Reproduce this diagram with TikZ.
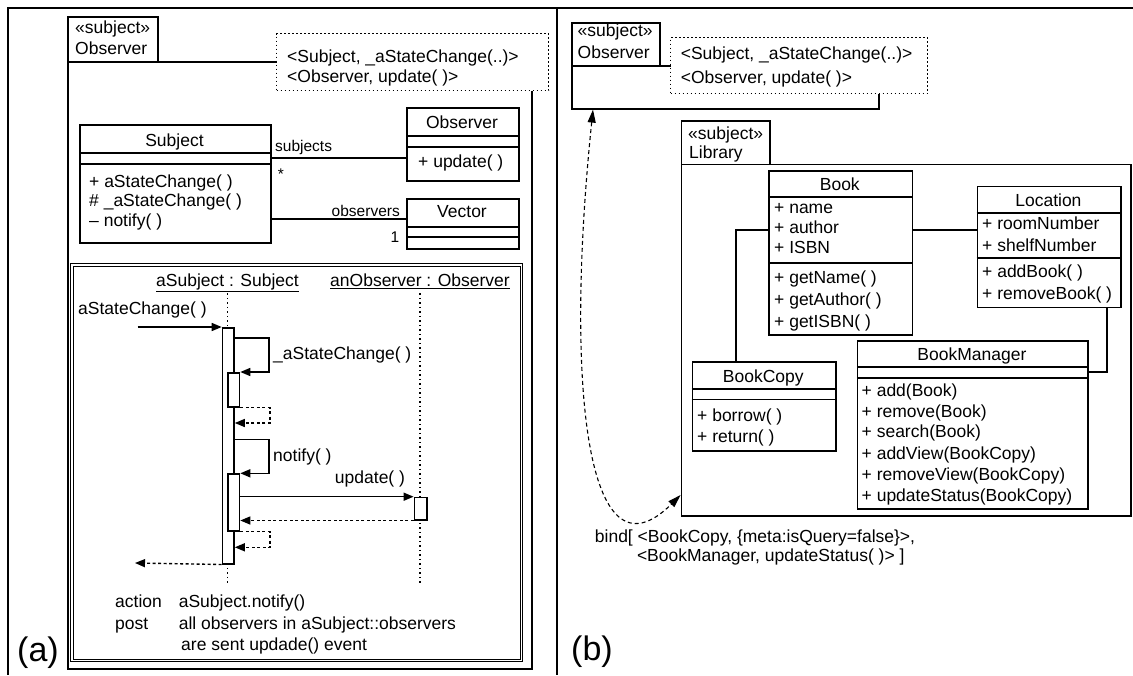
\documentclass[tikz,border=0pt]{standalone}
\usepackage{fontspec}
\setmainfont{Liberation Sans}
\usetikzlibrary{arrows.meta}
\tikzset{
  txt/.style={inner sep=0pt, font=\fontsize{17.5}{21}\selectfont, text height=12.5pt, text depth=3.6pt},
  tl/.style={txt, anchor=west},
  smalltxt/.style={inner sep=0pt, font=\fontsize{15.5}{18}\selectfont},
  big/.style={inner sep=0pt, font=\fontsize{34}{40}\selectfont, anchor=base west},
  cls/.style={draw, line width=1.6pt, fill=white, anchor=north west, inner sep=0pt},
  frm/.style={draw, line width=1.6pt, anchor=north west, inner sep=0pt},
  sepline/.style={line width=1.6pt},
  conn/.style={line width=1.6pt},
  dotbox/.style={draw, line width=1.4pt, dash pattern=on 1.6pt off 2.4pt, fill=white, anchor=north west, inner sep=0pt},
  msg/.style={line width=1.5pt, -{Triangle[length=10pt,width=8pt]}},
  ret/.style={line width=1.4pt, dash pattern=on 3pt off 2.5pt, -{Triangle[length=10pt,width=8pt]}},
  life/.style={line width=1.3pt, dash pattern=on 1.5pt off 3pt},
  act/.style={draw, fill=white, line width=1.5pt, anchor=north west, inner sep=0pt},
  outerline/.style={line width=2.2pt},
  bindarrow/.style={line width=1.1pt, dash pattern=on 4pt off 3pt, {Triangle[length=13pt,width=8pt]}-{Triangle[length=13pt,width=8pt]}},
}
\newcommand\csep[2]{\draw[sepline] ([yshift=-#2pt]#1.north west) -- ([yshift=-#2pt]#1.north east);}
\begin{document}
\begin{tikzpicture}[x=1pt,y=-1pt]
\useasboundingbox (0,0) rectangle (1133,675);
% outer frame
\draw[outerline] (1133,8) -- (8,8) -- (8,675);
\draw[outerline] (557,8) -- (557,675);

% ================= (a) =================
\node[frm, minimum width=464pt, minimum height=607pt] (pkgL) at (67,61) {};
\node[frm, minimum width=90pt, minimum height=45pt] (tabL) at (67,16) {};
\node[tl] (tabL1) at (75,29) {«subject»};
\node[tl] (tabL2) at (75,50) {Observer};
\node[dotbox, minimum width=272pt, minimum height=57pt] (dotL) at (276,33) {};
\node[tl] (dotL1) at (287,58) {<Subject, \_aStateChange(..)>};
\node[tl] (dotL2) at (287,78) {<Observer, update( )>};

% Subject class
\node[cls, minimum width=191pt, minimum height=118pt] (subj) at (79,124) {};
\csep{subj}{29}\csep{subj}{40}
\node[txt] (subjN) at (174.5,142) {Subject};
\foreach \lbl/\yy [count=\i] in {{+ aStateChange( )}/183, {\# \_aStateChange( )}/202, {\textendash\ notify( )}/222}
  \node[tl] (subop\i) at (89,\yy) {\lbl};

% Observer class
\node[cls, minimum width=112pt, minimum height=73pt] (obsC) at (406,107) {};
\csep{obsC}{29}\csep{obsC}{40}
\node[txt] (obsN) at (462,124) {Observer};
\node[tl] (obsop) at (418,163) {+ update( )};

% Vector class
\node[cls, minimum width=112pt, minimum height=50pt] (vec) at (406,198) {};
\csep{vec}{29}\csep{vec}{39}
\node[txt] (vecN) at (462,213) {Vector};

% associations
\coordinate (cS) at (0,158);
\coordinate (cO) at (0,219);
\draw[conn] (subj.east |- cS) -- (obsC.west |- cS);
\draw[conn] (subj.east |- cO) -- (vec.west |- cO);
\node[smalltxt, anchor=west] (lsubs) at (275,147) {subjects};
\node[smalltxt] (lstar) at (281,174) {*};
\node[smalltxt, anchor=east] (lobs) at (400,211) {observers};
\node[smalltxt] (lone) at (395,237) {1};

% sequence frame
\draw[line width=1pt, double, double distance=1.4pt] (71.8,265.1) rectangle (521.6,660.4);
\node[txt] (asub) at (227.5,282) {\underline{aSubject : Subject}};
\node[txt] (aobs) at (420,282) {\underline{anObserver : Observer}};
\coordinate (llA) at (227.5,583);
\coordinate (llB) at (420,583);
\draw[life] (asub.south) ++(0,3) -- (llA);
\draw[life] (aobs.south) ++(0,3) -- (llB);

\node[act, minimum width=11.6pt, minimum height=236pt] (actMain) at (221.7,327) {};
\node[act, minimum width=11.5pt, minimum height=34pt] (act1) at (227.3,372) {};
\node[act, minimum width=11.5pt, minimum height=56.7pt] (act2) at (227.3,473.3) {};
\node[act, minimum width=12.4pt, minimum height=22.3pt] (actObs) at (413.6,496.7) {};

\node[tl] (lin) at (78,310) {aStateChange( )};
\coordinate (inStart) at (137.5,327);
\draw[msg] (inStart) -- (actMain.north west);

\coordinate (s1y) at (0,338);
\draw[msg] (actMain.east |- s1y) -- ++(34,0) |- (act1.north east);
\node[tl] (ls1) at (273,355) {\_aStateChange( )};
\coordinate (r1y) at (0,423);
\draw[ret] (act1.south east) -- ++(29.5,0) |- (actMain.east |- r1y);

\coordinate (s2y) at (0,439.5);
\draw[msg] (actMain.east |- s2y) -- ++(34,0) |- (act2.north east);
\node[tl] (ls2) at (273,457) {notify( )};

\node[txt] (lupd) at (370,479) {update( )};
\coordinate (uy) at (0,496.7);
\draw[msg] (act2.east |- uy) -- (actObs.north west);
\draw[ret] (actObs.south west) -- (act2.east |- actObs.south west);

\coordinate (r3y) at (0,547.3);
\draw[ret] (act2.south east) -- ++(29.5,0) |- (actMain.east |- r3y);

\coordinate (outEnd) at (135,563);
\draw[ret] (actMain.south west) -- (outEnd);

\node[tl] (tact) at (115,603) {action};
\node[tl] (tactv) at (178.6,603) {aSubject.notify()};
\node[tl] (tpost) at (115,625) {post};
\node[tl] (tpostv) at (178.6,625) {all observers in aSubject::observers};
\node[tl] (tpostv2) at (181,646) {are sent updade() event};

\node[big] (la) at (17,661) {(a)};

% ================= (b) =================
\node[frm, minimum width=307pt, minimum height=43pt] (pkgR) at (571,65) {};
\node[frm, minimum width=88pt, minimum height=43pt] (tabR) at (571,22) {};
\node[tl] (tabR1) at (577.5,32) {«subject»};
\node[tl] (tabR2) at (577.5,54) {Observer};
\node[dotbox, minimum width=257pt, minimum height=56pt] (dotR) at (670,37) {};
\node[tl] (dotR1) at (680.6,55) {<Subject, \_aStateChange(..)>};
\node[tl] (dotR2) at (680.6,79) {<Observer, update( )>};

\node[frm, minimum width=449.4pt, minimum height=351.5pt] (lib) at (680.6,163.5) {};
\node[frm, minimum width=88.4pt, minimum height=43.5pt] (libtab) at (680.6,120) {};
\node[tl] (libtab1) at (688,135) {«subject»};
\node[tl] (libtab2) at (689,154) {Library};

% Book
\node[cls, minimum width=143.6pt, minimum height=164pt] (book) at (768,170) {};
\csep{book}{26.7}\csep{book}{93}
\node[txt] (bookN) at (839.8,186) {Book};
\foreach \lbl/\yy [count=\i] in {{+ name}/208.7, {+ author}/228.7, {+ ISBN}/249, {+ getName( )}/279, {+ getAuthor( )}/301.5, {+ getISBN( )}/323}
  \node[tl] (bookop\i) at (774,\yy) {\lbl};

% Location
\node[cls, minimum width=143.3pt, minimum height=121pt] (loc) at (976.7,185.7) {};
\csep{loc}{27.3}\csep{loc}{72}
\node[txt] (locN) at (1048.4,202) {Location};
\foreach \lbl/\yy [count=\i] in {{+ roomNumber}/224.7, {+ shelfNumber}/246.7, {+ addBook( )}/273, {+ removeBook( )}/295}
  \node[tl] (locop\i) at (982,\yy) {\lbl};

% BookCopy
\node[cls, minimum width=143.3pt, minimum height=89pt] (copy) at (691.6,361) {};
\csep{copy}{28}\csep{copy}{38.3}
\node[txt] (copyN) at (763.3,378) {BookCopy};
\foreach \lbl/\yy [count=\i] in {{+ borrow( )}/416.7, {+ return( )}/438.3}
  \node[tl] (copyop\i) at (697,\yy) {\lbl};

% BookManager
\node[cls, minimum width=230.2pt, minimum height=168pt] (bm) at (856.8,340) {};
\csep{bm}{26.7}\csep{bm}{37.7}
\node[txt] (bmN) at (971.9,356) {BookManager};
\foreach \lbl/\yy [count=\i] in {{+ add(Book)}/392, {+ remove(Book)}/413, {+ search(Book)}/433.5, {+ addView(BookCopy)}/455, {+ removeView(BookCopy)}/476.5, {+ updateStatus(BookCopy)}/497}
  \node[tl] (bmop\i) at (861.5,\yy) {\lbl};

% associations
\coordinate (cBL) at (0,230);
\coordinate (cBCx) at (736,0);
\coordinate (cLBx) at (1107,0);
\coordinate (cLBy) at (0,371.7);
\draw[conn] (book.east |- cBL) -- (loc.west |- cBL);
\draw[conn] (book.west |- cBL) -| (cBCx |- copy.north);
\draw[conn] (cLBx |- loc.south) |- (bm.east |- cLBy);

% bind arrow
\coordinate (bTop) at (593,0);
\coordinate (bLib) at (0,495);
\draw[bindarrow] (bTop |- pkgR.south) .. controls (565,380) and (585,590) .. (lib.west |- bLib);
\node[tl] (bind1) at (594.7,538) {bind[ <BookCopy, \{meta:isQuery=false\}>,};
\node[tl] (bind2) at (636.8,557) {<BookManager, updateStatus( )> ]};

\node[big] (lb) at (571,660) {(b)};
\end{tikzpicture}
\end{document}
